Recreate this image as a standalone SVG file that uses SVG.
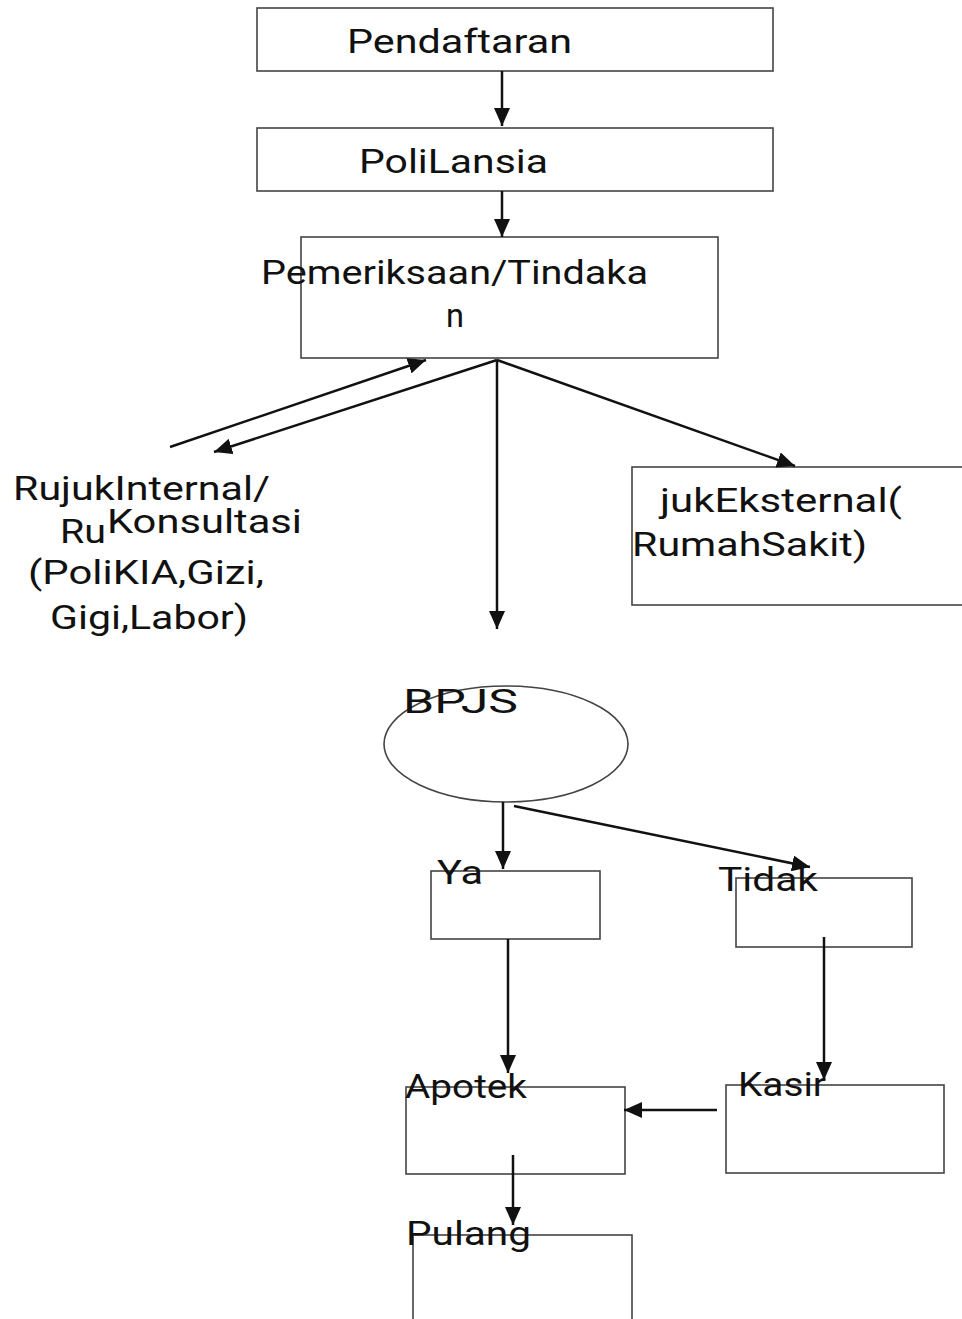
<svg xmlns="http://www.w3.org/2000/svg" width="962" height="1319" viewBox="0 0 962 1319">
<style>
.box{fill:#fff;stroke:#444;stroke-width:1.6}
.t{font-family:Roboto,"Liberation Sans",sans-serif;font-size:34px;fill:#111}
.c{stroke:#111;stroke-width:2.5;fill:none;marker-end:url(#ah)}
</style>
<defs>
<marker id="ah" markerUnits="userSpaceOnUse" markerWidth="20" markerHeight="16" refX="18" refY="8" orient="auto">
<path d="M0,0 L18,8 L0,16 Z" fill="#111"/>
</marker>
</defs>
<g id="n-pendaftaran"><rect class="box" x="257" y="8" width="516" height="63"/><text class="t" x="347" y="53" textLength="225" lengthAdjust="spacingAndGlyphs">Pendaftaran</text></g>
<g id="n-polilansia"><rect class="box" x="257" y="128" width="516" height="63"/><text class="t" x="359" y="173" textLength="189" lengthAdjust="spacingAndGlyphs">PoliLansia</text></g>
<g id="n-pemeriksaan"><rect class="box" x="301" y="237" width="417" height="121"/><text class="t" x="261" y="284" textLength="387" lengthAdjust="spacingAndGlyphs">Pemeriksaan/Tindaka</text><text class="t" x="446" y="327" textLength="18" lengthAdjust="spacingAndGlyphs">n</text></g>
<g id="n-rujukinternal"><text class="t" x="13" y="500" textLength="257" lengthAdjust="spacingAndGlyphs">RujukInternal/</text><text class="t" x="60" y="543" textLength="46" lengthAdjust="spacingAndGlyphs">Ru</text><text class="t" x="107" y="533" textLength="195" lengthAdjust="spacingAndGlyphs">Konsultasi</text><text class="t" x="28" y="584" textLength="236" lengthAdjust="spacingAndGlyphs">(PoliKIA,Gizi,</text><text class="t" x="50" y="629" textLength="198" lengthAdjust="spacingAndGlyphs">Gigi,Labor)</text></g>
<g id="n-rujukeksternal"><rect class="box" x="632" y="467" width="340" height="138"/><text class="t" x="660" y="512" textLength="242" lengthAdjust="spacingAndGlyphs">jukEksternal(</text><text class="t" x="632" y="556" textLength="235" lengthAdjust="spacingAndGlyphs">RumahSakit)</text></g>
<g id="n-bpjs"><ellipse class="box" cx="506" cy="744" rx="122" ry="58"/><text class="t" x="403" y="713" textLength="115" lengthAdjust="spacingAndGlyphs">BPJS</text></g>
<g id="n-ya"><rect class="box" x="431" y="871" width="169" height="68"/><text class="t" x="437" y="884" textLength="46" lengthAdjust="spacingAndGlyphs">Ya</text></g>
<g id="n-tidak"><rect class="box" x="736" y="878" width="176" height="69"/><text class="t" x="718" y="891" textLength="100" lengthAdjust="spacingAndGlyphs">Tidak</text></g>
<g id="n-apotek"><rect class="box" x="406" y="1087" width="219" height="87"/><text class="t" x="405" y="1098" textLength="122" lengthAdjust="spacingAndGlyphs">Apotek</text></g>
<g id="n-kasir"><rect class="box" x="726" y="1085" width="218" height="88"/><text class="t" x="738" y="1096" textLength="88" lengthAdjust="spacingAndGlyphs">Kasir</text></g>
<g id="n-pulang"><rect class="box" x="413" y="1235" width="219" height="100"/><text class="t" x="406" y="1245" textLength="125" lengthAdjust="spacingAndGlyphs">Pulang</text></g>
<g id="connectors">
<line class="c" x1="502" y1="71" x2="502" y2="126"/>
<line class="c" x1="502" y1="191" x2="502" y2="237"/>
<line class="c" x1="497" y1="360" x2="214" y2="452"/>
<line class="c" x1="170" y1="447" x2="426" y2="360"/>
<line class="c" x1="497" y1="360" x2="497" y2="629"/>
<line class="c" x1="497" y1="360" x2="795" y2="466"/>
<line class="c" x1="503" y1="802" x2="503" y2="869"/>
<line class="c" x1="514" y1="806" x2="810" y2="867"/>
<line class="c" x1="508" y1="939" x2="508" y2="1073"/>
<line class="c" x1="824" y1="937" x2="824" y2="1080"/>
<line class="c" x1="717" y1="1110" x2="624" y2="1110"/>
<line class="c" x1="513" y1="1155" x2="513" y2="1225"/>
</g>
</svg>
